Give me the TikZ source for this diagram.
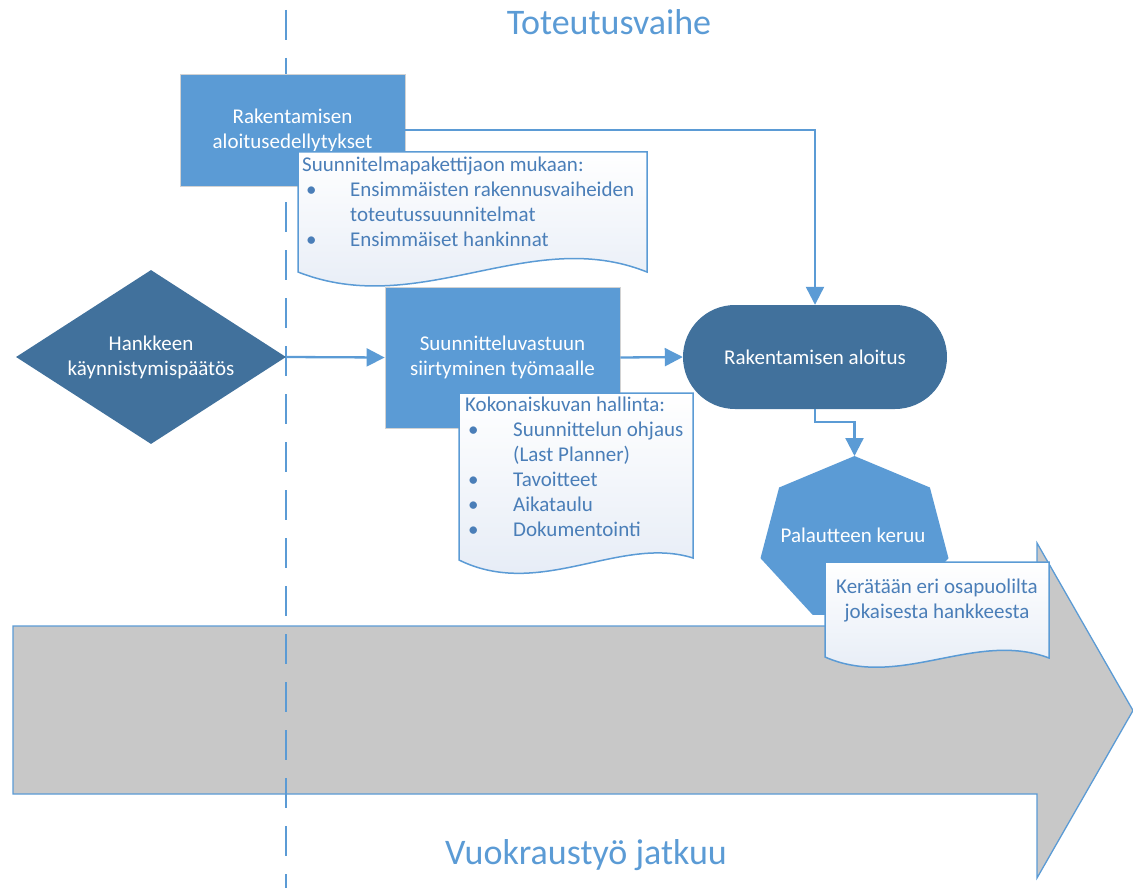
\documentclass[tikz,border=0pt]{standalone}
\usepackage{fontspec}
\setmainfont{Carlito}
\usetikzlibrary{arrows.meta,shapes.geometric}
\definecolor{lblue}{HTML}{5B9BD5}
\definecolor{dblue}{HTML}{41719C}
\definecolor{txtblue}{HTML}{4A7EB8}
\definecolor{agrey}{HTML}{C8C8C8}
\definecolor{docbot}{HTML}{E3EAF5}
\begin{document}
\begin{tikzpicture}[x=1pt,y=-1pt,
  conn/.style={draw=lblue, line width=2.3pt, -{Triangle[length=18pt,width=18pt]}},
  mainfont/.style={font=\fontsize{21}{25}\selectfont},
  boxstyle/.style={rectangle, fill=lblue, draw=gray!35, line width=0.8pt, text=white, align=center, inner sep=0pt, mainfont},
  darkstyle/.style={fill=dblue, text=white, align=center, inner sep=0pt, mainfont},
  docstyle/.style={draw=lblue, line width=1.5pt, top color=white, bottom color=docbot},
  doctext/.style={text=txtblue, align=left, inner sep=0pt, mainfont},
  bigtitle/.style={text=lblue, font=\fontsize{36}{40}\selectfont}]
\useasboundingbox (0,0) rectangle (1133,888);

% big grey arrow
\path[fill=agrey, draw=lblue, line width=1.3pt]
  (13,626) -- (1037,626) -- (1037,543) -- (1133,710.5) -- (1037,878) -- (1037,794) -- (13,794) -- cycle;

% dashed separator
\coordinate (dtop) at (286,10);
\coordinate (dbot) at (286,888);
\draw[lblue, line width=2pt, dash pattern=on 30pt off 18pt] (dtop) -- (dbot);

% titles
\node[bigtitle] (title) at (609,22) {Toteutusvaihe};
\node[bigtitle] (bottomtitle) at (586,855) {Vuokraustyö jatkuu};

% nodes
\node[boxstyle, minimum width=225pt, minimum height=112pt] (box1) at (292.5,130) {Rakentamisen\\aloitusedellytykset};
\node[diamond, darkstyle, minimum width=270pt, minimum height=174pt, aspect=1.55] (dia) at (151,357) {Hankkeen\\käynnistymispäätös};
\node[boxstyle, minimum width=235pt, minimum height=141pt] (box2) at (502.5,357.5) {Suunnitteluvastuun\\siirtyminen työmaalle};
\node[rectangle, rounded corners=52pt, darkstyle, minimum width=264pt, minimum height=104pt] (term) at (815,357) {Rakentamisen aloitus};

% heptagon
\coordinate (fbtop) at (854.5,456);
\path[fill=lblue] (fbtop) -- (929.9,487.5) -- (948.5,558.2) -- (896.3,614.9) -- (812.7,614.9) -- (760.5,558.2) -- (779.1,487.5) -- cycle;
\node[text=white, mainfont] (fb) at (853,535) {Palautteen keruu};

% connectors
\draw[conn] (box1.east) -| (term.north);
\draw[conn] (dia.east) -- (box2.west);
\draw[conn] (box2.east) -- (term.west);
\draw[conn] (term.south) -- ++(0,13) -| (fbtop);

% documents
\path[docstyle] (298,152) -- (647,152) -- (647,272) .. controls (530,225) and (420,320) .. (298,272) -- cycle;
\node[doctext, anchor=north west] (doc1) at (302,157) {Suunnitelmapakettijaon mukaan:\\
\hspace*{4pt}\makebox[44pt][l]{•}Ensimmäisten rakennusvaiheiden\\
\hspace*{48pt}toteutussuunnitelmat\\
\hspace*{4pt}\makebox[44pt][l]{•}Ensimmäiset hankinnat};

\path[docstyle] (459,393) -- (693,393) -- (693,558) .. controls (620,535) and (540,600) .. (459,560) -- cycle;
\node[doctext, anchor=north west] (doc2) at (465,397) {Kokonaiskuvan hallinta:\\
\hspace*{3pt}\makebox[45pt][l]{•}Suunnittelun ohjaus\\
\hspace*{48pt}(Last Planner)\\
\hspace*{3pt}\makebox[45pt][l]{•}Tavoitteet\\
\hspace*{3pt}\makebox[45pt][l]{•}Aikataulu\\
\hspace*{3pt}\makebox[45pt][l]{•}Dokumentointi};

\path[docstyle] (825,562) -- (1049,562) -- (1049,658) .. controls (975,630) and (900,690) .. (825,657) -- cycle;
\node[doctext, align=center] (doc3) at (937,601) {Kerätään eri osapuolilta\\jokaisesta hankkeesta};
\end{tikzpicture}
\end{document}
